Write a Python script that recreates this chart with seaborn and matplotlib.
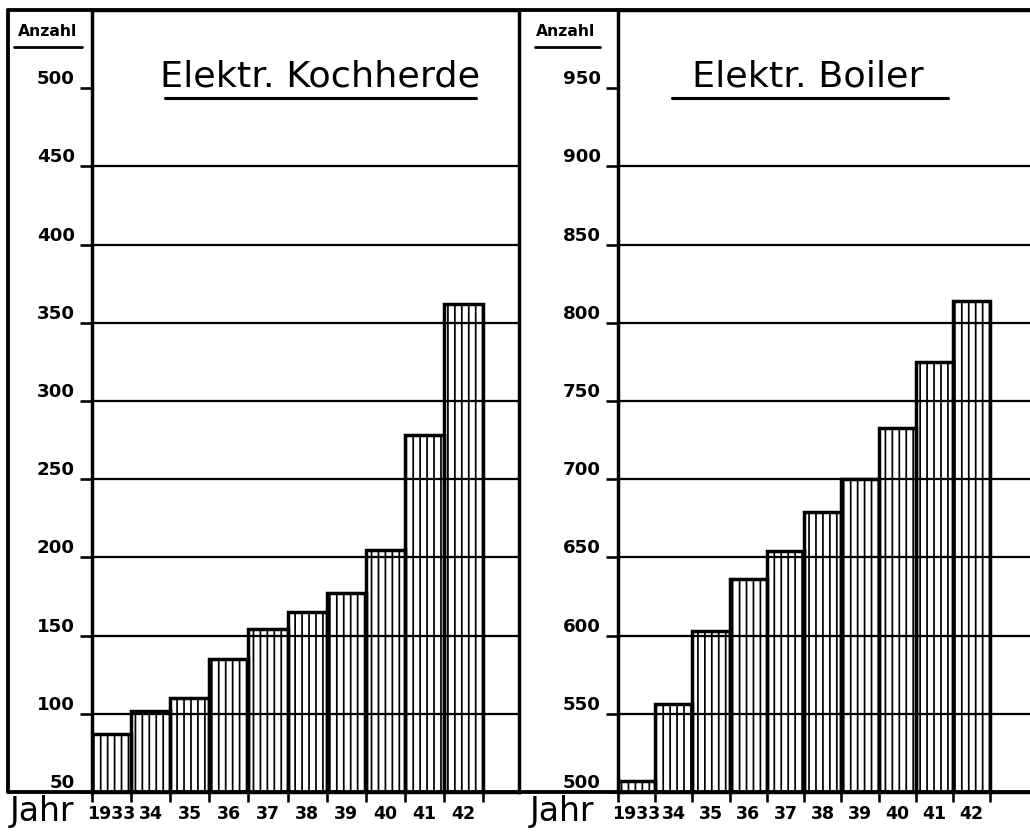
import numpy as np
import matplotlib.pyplot as plt
import seaborn as sns
import pandas as pd
from matplotlib.lines import Line2D

# values
years = ["1933", "34", "35", "36", "37", "38", "39", "40", "41", "42"]
kochherde = [87, 102, 110, 135, 154, 165, 177, 205, 278, 362]
boiler = [507, 556, 603, 636, 654, 679, 700, 733, 775, 814]
koch_ticks = [50, 100, 150, 200, 250, 300, 350, 400, 450, 500]
boiler_ticks = [500, 550, 600, 650, 700, 750, 800, 850, 900, 950]

sns.set_style("white")
plt.rcParams["font.family"] = ["DejaVu Sans"]
plt.rcParams["text.color"] = "black"
plt.rcParams["xtick.color"] = "black"
plt.rcParams["ytick.color"] = "black"
plt.rcParams["hatch.linewidth"] = 1.0

DPI = 125
W, H = 1030, 832
fig = plt.figure(figsize=(W / DPI, H / DPI), dpi=DPI)


def box(x0, x1, ytop, ybot):
    return [x0 / W, 1 - ybot / H, (x1 - x0) / W, (ybot - ytop) / H]


def fline(xs, ys, lw=2.0):
    fig.add_artist(Line2D([x / W for x in xs], [1 - y / H for y in ys],
                          color="black", lw=lw, transform=fig.transFigure))


def draw_panel(ax, values, ticks, ylim, xmax, title, tx, ux0, ux1):
    df = pd.DataFrame({"Jahr": years, "Anzahl": values})
    sns.barplot(data=df, x="Jahr", y="Anzahl", ax=ax, width=1.0,
                color="white", saturation=1, edgecolor="black",
                linewidth=2.0, hatch="|||", zorder=3)
    for p in ax.patches:
        p.set_facecolor("none")

    ax.set_ylim(*ylim)
    ax.set_xlim(-0.5, xmax)
    ax.set_yticks(ticks)
    ax.set_yticklabels([str(t) for t in ticks])
    plt.setp(ax.get_yticklabels(), va="bottom", fontweight="bold")
    plt.setp(ax.get_xticklabels(), fontweight="bold")
    ax.yaxis.grid(True, color="black", lw=1.3)
    # no rule across the title area
    ax.get_ygridlines()[-1].set_visible(False)
    ax.xaxis.grid(False)
    ax.set_xlabel("")
    ax.set_ylabel("")

    ax.tick_params(axis="y", left=True, direction="out", length=7, width=1.5,
                   pad=3, labelsize=10.5)
    ax.tick_params(axis="x", which="major", bottom=False, pad=4, labelsize=10)
    ax.set_xticks(np.arange(-0.5, len(years), 1.0), minor=True)
    ax.tick_params(axis="x", which="minor", bottom=True, direction="out",
                   length=6, width=1.5)

    for s in ["left", "bottom", "top", "right"]:
        ax.spines[s].set_color("black")
        ax.spines[s].set_linewidth(2.0)

    ax.text(tx, 0.915, title, transform=ax.transAxes, ha="center", va="center",
            fontsize=21, color="black")
    ax.plot([ux0, ux1], [0.887, 0.887], transform=ax.transAxes, color="black",
            lw=1.8, clip_on=False)


ax1 = fig.add_axes(box(92, 519, 10, 792))
ax2 = fig.add_axes(box(618, 1030, 10, 792))

draw_panel(ax1, kochherde, koch_ticks, (50, 550), 10.42,
           "Elektr. Kochherde", 0.535, 0.17, 0.90)
draw_panel(ax2, boiler, boiler_ticks, (500, 1000), 10.57,
           "Elektr. Boiler", 0.46, 0.13, 0.80)
ax2.spines["right"].set_visible(False)

# outer frame
fline([8, 1030], [10, 10], lw=2.2)
fline([8, 8], [10, 792], lw=2.2)
fline([8, 1030], [792, 792], lw=2.2)

# column headers and year captions
for cx, ux0, ux1 in [(48, 14, 82), (566, 535, 600)]:
    fig.text(cx / W, 1 - 32 / H, "Anzahl", ha="center", va="center",
             fontsize=9, fontweight="bold")
    fline([ux0, ux1], [47, 47], lw=1.6)

fig.text(10 / W, 1 - 812 / H, "Jahr", ha="left", va="center", fontsize=19)
fig.text(530 / W, 1 - 812 / H, "Jahr", ha="left", va="center", fontsize=19)

fig.savefig("out.png", dpi=DPI)
